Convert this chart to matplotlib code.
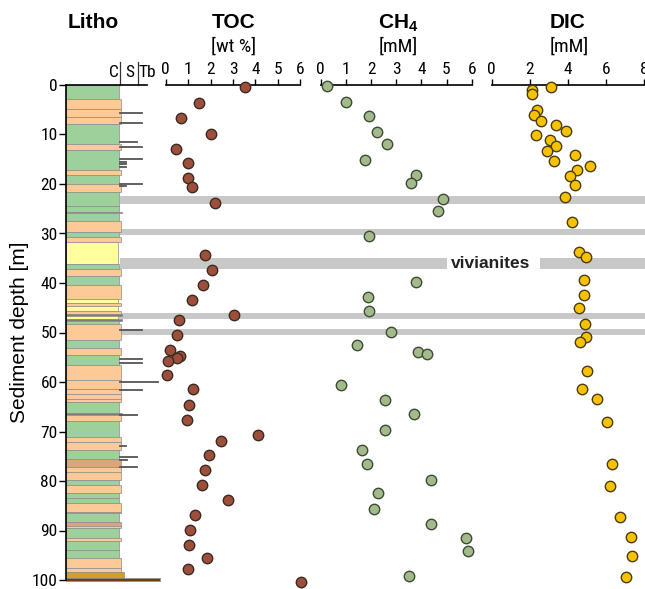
import os
import matplotlib
matplotlib.use('Agg')
import matplotlib.pyplot as plt
from matplotlib import font_manager
from matplotlib.patches import Rectangle

# ---- data ----
toc_depth = [0.5, 3.6, 6.7, 9.8, 12.9, 15.7, 18.8, 20.7, 23.8, 34.3, 37.4, 40.5, 43.4, 46.5, 47.5,
             50.6, 53.5, 54.7, 55.2, 55.7, 58.6, 61.5, 64.6, 67.6, 70.8, 71.9, 74.7, 77.8, 80.9,
             83.8, 86.8, 89.8, 92.9, 95.6, 97.8, 100.5]
toc_val = [3.54, 1.47, 0.67, 2.0, 0.46, 0.98, 1.01, 1.16, 2.19, 1.77, 2.07, 1.65, 1.16, 3.05, 0.58,
           0.52, 0.18, 0.64, 0.49, 0.12, 0.04, 1.2, 1.05, 0.94, 4.1, 2.45, 1.95, 1.77, 1.64,
           2.77, 1.32, 1.1, 1.04, 1.84, 1.0, 6.04]

ch4_depth = [0.2, 3.4, 6.3, 9.4, 11.9, 15.2, 18.2, 19.7, 23.1, 25.5, 30.6, 39.8, 42.8, 45.6,
             49.8, 52.6, 53.9, 54.3, 60.6, 63.6, 66.5, 69.6, 73.7, 76.6, 79.7, 82.5, 85.6,
             88.6, 91.5, 94.1, 99.1]
ch4_val = [0.26, 1.02, 1.93, 2.22, 2.62, 1.76, 3.79, 3.58, 4.84, 4.67, 1.9, 3.79, 1.86, 1.92,
           2.78, 1.44, 3.85, 4.22, 0.81, 2.55, 3.72, 2.56, 1.64, 1.83, 4.38, 2.29, 2.12,
           4.4, 5.78, 5.87, 3.49]

dic_depth = [0.5, 1.1, 1.8, 5.0, 6.1, 7.3, 8.1, 9.3, 10.2, 11.2, 12.4, 13.3, 14.2, 15.3, 16.4,
             17.2, 18.4, 20.3, 22.7, 27.7, 33.7, 34.8, 39.4, 42.4, 45.1, 48.3, 51.0, 51.9,
             57.8, 61.5, 63.5, 68.1, 76.6, 81.0, 87.2, 91.3, 95.1, 99.3]
dic_val = [3.09, 2.1, 2.1, 2.38, 2.24, 2.6, 3.36, 3.88, 2.32, 3.06, 3.39, 2.9, 4.35, 3.27, 5.14,
           4.47, 4.09, 4.37, 3.86, 4.2, 4.58, 4.95, 4.86, 4.86, 4.6, 4.89, 4.96, 4.63,
           5.0, 4.74, 5.5, 6.05, 6.29, 6.19, 6.74, 7.29, 7.37, 7.03]

# lithology: top of each layer and its type
# G clay (green), O silt (orange), Y yellow, T tan, D dark seam, A gold, B brown base
lith_top = [0, 2.9, 4.9, 6.4, 7.9, 11.9, 13.1, 17.2, 18.2, 20.1, 21.6, 24.4, 25.6, 25.9, 27.4,
            29.7, 30.7, 31.7, 36.1, 37.1, 38.5, 40.5, 43.2, 44.0, 44.7, 45.6, 46.2, 46.7, 47.3,
            47.7, 48.2, 51.6, 53.2, 54.6, 56.5, 59.6, 61.4, 62.5, 63.4, 64.1, 66.3, 66.7, 67.8,
            71.1, 72.2, 73.8, 75.5, 77.1, 78.2, 79.7, 80.8, 82.5, 83.5, 84.5, 86.2, 86.5, 88.2,
            89.0, 89.5, 91.6, 92.2, 94.0, 95.6, 97.5, 98.3, 99.6]
lith_base = 100.3
lith_type = ['G', 'O', 'O', 'O', 'G', 'O', 'G', 'O', 'G', 'O', 'G', 'G', 'D', 'G', 'O',
             'G', 'O', 'Y', 'G', 'O', 'G', 'O', 'Y', 'O', 'Y', 'O', 'D', 'Y', 'D',
             'G', 'O', 'G', 'O', 'G', 'O', 'O', 'O', 'O', 'O', 'G', 'D', 'O', 'G',
             'O', 'O', 'G', 'T', 'O', 'O', 'G', 'O', 'G', 'G', 'O', 'T', 'G', 'T',
             'O', 'G', 'O', 'G', 'G', 'O', 'O', 'A', 'B']

# turbidite marks (depth, right end in litho units)
tb_depth = [5.6, 7.6, 11.5, 12.6, 14.9, 15.5, 16.0, 16.5, 19.9, 20.4, 49.5, 55.4, 56.1,
            60.1, 61.6, 66.6, 72.9, 75.1, 75.8, 77.2]
tb_end = [4.2, 4.2, 3.9, 4.2, 4.2, 3.3, 3.3, 3.3, 4.2, 3.3, 4.2, 4.2, 4.2,
          5.1, 4.2, 3.9, 3.3, 3.9, 3.4, 3.9]

# gray horizons (center depth, thickness)
band_depth = [23.2, 29.7, 36.1, 46.7, 49.9]
band_thick = [1.5, 1.1, 2.1, 1.3, 1.2]

depth_ticks = list(range(0, 101, 10))
toc_ticks = [0, 1, 2, 3, 4, 5, 6]
ch4_ticks = [0, 1, 2, 3, 4, 5, 6]
dic_ticks = [0, 2, 4, 6, 8]

# ---- fonts ----
plt.rcParams['font.family'] = ['Liberation Sans', 'DejaVu Sans']
plt.rcParams['mathtext.fontset'] = 'custom'
plt.rcParams['mathtext.rm'] = 'Liberation Sans'
plt.rcParams['mathtext.bf'] = 'Liberation Sans:bold'

# a condensed face for the small labels, if one is installed
narrow_files = ['LiberationSansNarrow-Regular.ttf', 'RobotoCondensed-Regular.ttf',
                'Roboto_Condensed-Regular.ttf', 'DejaVuSansCondensed.ttf']
found = {os.path.basename(f.fname): f.fname for f in font_manager.fontManager.ttflist}
nfile = next((found[n] for n in narrow_files if n in found), None)
if nfile is None:
    for p in font_manager.findSystemFonts():
        if os.path.basename(p) in narrow_files:
            nfile = p
            break


def nfont(size):
    if nfile:
        return font_manager.FontProperties(fname=nfile, size=size)
    return font_manager.FontProperties(family='Liberation Sans', size=size)


lith_color = {'G': '#9dd09b', 'O': '#fdc997', 'Y': '#ffff9c', 'T': '#d9a679',
              'D': '#7a7a7a', 'A': '#d89c2c', 'B': '#6b3f12'}
lith_width = {'G': 2.95, 'O': 3.05, 'Y': 2.85, 'T': 3.05, 'D': 3.1, 'A': 3.2, 'B': 5.2}

W, H = 645, 589
fig = plt.figure(figsize=(W / 100, H / 100), dpi=100)
bot = 1 - 580 / H
hgt = 495 / H


def add_ax(x0, x1, z=2):
    a = fig.add_axes([x0 / W, bot, (x1 - x0) / W, hgt], zorder=z)
    a.patch.set_alpha(0)
    a.set_ylim(100, 0)
    return a


# gray horizons across the panels
bg = add_ax(0, W, z=0)
bg.set_xlim(0, W)
bg.axis('off')
for d, t in zip(band_depth, band_thick):
    x_start = 112 if 46 < d < 48 else 120
    if d == 36.1:
        bg.fill_between([x_start, 447], d - t / 2, d + t / 2, color='#c8c8c8', lw=0)
        bg.fill_between([540, W], d - t / 2, d + t / 2, color='#c8c8c8', lw=0)
        bg.text(491, d, 'vivianites', ha='center', va='center', fontsize=12.5,
                fontweight='bold', color='#222222')
    else:
        bg.fill_between([x_start, W], d - t / 2, d + t / 2, color='#c8c8c8', lw=0)

# ---- litho column ----
lx = add_ax(66, 160, z=1)
lx.set_xlim(0, 5.2)
bottoms = lith_top[1:] + [lith_base]
for top, base, kind in zip(lith_top, bottoms, lith_type):
    lx.add_patch(Rectangle((0, top), lith_width[kind], base - top, facecolor=lith_color[kind],
                           edgecolor='#8c8c8c', lw=0.5, clip_on=False))
for d, e in zip(tb_depth, tb_end):
    lx.plot([3.0, e], [d, d], color='#555555', lw=1.3, clip_on=False)
lx.plot([0, 4.5], [0, 0], color='black', lw=1.2, clip_on=False, zorder=5)
for xs in [3, 4]:
    lx.plot([xs, xs], [-4.6, 0], color='#333333', lw=0.9, clip_on=False)
for lab, xs in zip(['C', 'S', 'Tb'], [2.9, 3.5, 4.5]):
    lx.text(xs, -2.6, lab, ha='right' if lab == 'C' else 'center', va='center',
            fontproperties=nfont(12.5))
for s in ['top', 'right', 'bottom']:
    lx.spines[s].set_visible(False)
lx.spines['left'].set_linewidth(1.2)
lx.set_xticks([])
lx.set_yticks(depth_ticks)
lx.tick_params(axis='y', length=5, width=1, pad=1)
for lab in lx.get_yticklabels():
    lab.set_fontproperties(nfont(12.5))
lx.set_ylabel('Sediment depth [m]', fontsize=15)
lx.yaxis.set_label_coords((29 - 66) / 94, 0.5)


# ---- profile panels ----
def panel(x0, x1, xmax, ticks, vals, depths, fc, ec):
    a = add_ax(x0, x1)
    a.set_xlim(0, xmax)
    for s in ['left', 'right', 'bottom']:
        a.spines[s].set_visible(False)
    a.spines['top'].set_linewidth(1.2)
    a.xaxis.tick_top()
    a.set_xticks(ticks)
    a.set_yticks([])
    a.tick_params(axis='x', length=4, width=1, pad=1.5)
    for lab in a.get_xticklabels():
        lab.set_fontproperties(nfont(12.5))
    a.plot(vals, depths, 'o', ms=7.5, mfc=fc, mec=ec, mew=1, clip_on=False, zorder=4)
    return a


panel(165.7, 300.3, 6, toc_ticks, toc_val, toc_depth, '#9e4f3b', '#3b2a22')
panel(320.7, 471.7, 6, ch4_ticks, ch4_val, ch4_depth, '#a3bb8a', '#3f4a37')
panel(491.7, 644.3, 8, dic_ticks, dic_val, dic_depth, '#f7c200', '#4a3b10')


# ---- headers ----
def ftext(x, y, s, **kw):
    fig.text(x / W, 1 - y / H, s, ha='center', va='center', **kw)


ftext(93, 23, 'Litho', fontsize=15, fontweight='bold')
ftext(234, 23, 'TOC', fontsize=15, fontweight='bold')
ftext(398, 23, r'CH$_{\mathbf{4}}$', fontsize=15, fontweight='bold')
ftext(568, 23, 'DIC', fontsize=15, fontweight='bold')
ftext(234, 47, '[wt %]', fontproperties=nfont(14))
ftext(398, 47, '[mM]', fontproperties=nfont(14))
ftext(569, 47, '[mM]', fontproperties=nfont(14))

fig.savefig('out.png', dpi=100)
